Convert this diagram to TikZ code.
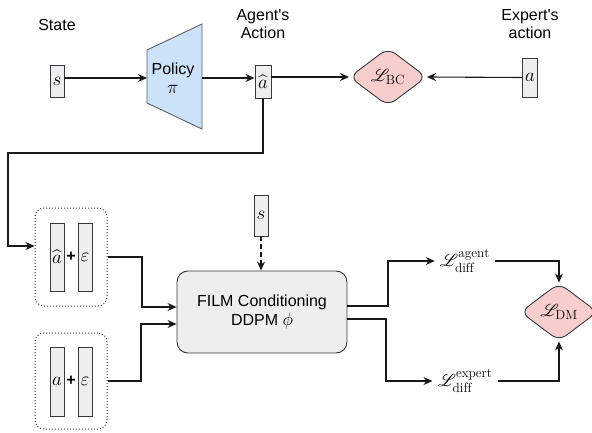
\RequirePackage{fix-cm}
\documentclass[tikz,border=0pt]{standalone}
\usepackage{fontspec}
\newfontfamily\labfont{Liberation Sans}
\usepackage{amsmath}
\usepackage{mathrsfs}
\usetikzlibrary{shapes.geometric,arrows.meta,calc}
\definecolor{dgray}{HTML}{36393D}
\definecolor{lgray}{HTML}{EEEEEE}
\definecolor{pinkf}{HTML}{F8CECC}
\definecolor{bluef}{HTML}{CCE2F8}
\newcommand\mth[1]{{\fontsize{19}{21}\selectfont$#1$}}
\begin{document}
\begin{tikzpicture}[x=1pt,y=-1pt,
  font=\labfont\fontsize{16}{18}\selectfont,
  bar/.style={draw=dgray, fill=lgray, line width=0.9pt, inner sep=0pt, minimum width=14pt},
  lossd/.style={diamond, draw=dgray, fill=pinkf, line width=0.9pt, rounded corners=9pt, inner sep=0pt, minimum width=77pt, minimum height=58pt},
  grp/.style={draw=dgray, dotted, line width=1pt, rounded corners=9pt, inner sep=0pt, minimum width=72pt},
  conn/.style={draw=black!90, line width=1.1pt, -{Stealth[length=9pt,width=8pt]}},
  lab/.style={align=center, inner sep=0pt}]
\useasboundingbox (0,0) rectangle (592,433);

% top row
\node[lab] (lstate) at (57,25) {State};
\node[bar, minimum height=32pt] (s1) at (57,81) {\mth{s}};

\draw[draw=dgray!80, fill=bluef, line width=0.9pt] (147,50) -- (202,24) -- (202,129) -- (147,103) -- cycle;
\coordinate (pl) at (147,78);
\coordinate (pr) at (202,78);
\node[lab] (policy) at (173,78) {Policy\\[1pt]\mth{\pi}};

\node[lab] (lagent) at (263,24) {Agent's\\Action};
\node[bar, minimum width=16pt, minimum height=33pt] (ahat) at (263,81.5) {\mth{\widehat{a}}};

\node[lossd] (lbc) at (388,77) {\mth{\mathscr{L}_{\mathrm{BC}}}};

\node[lab] (lexp) at (530,24) {Expert's\\action};
\node[bar, minimum width=15pt, minimum height=39pt] (aexp) at (530,77.5) {\mth{a}};

\draw[conn] (s1.east |- pl) -- (pl);
\draw[conn] (pr) -- (ahat.west |- pr);
\draw[conn] (ahat.east |- lbc.west) -- (lbc.west);
\draw[conn] (aexp.west) -- (lbc.east);

% groups
\node[grp, minimum height=98pt] (g1) at (71,257) {};
\node[bar, minimum height=68pt] (b1a) at (57,257) {\mth{\widehat{a}}};
\node[inner sep=0pt] (p1) at (71,257) {\bfseries +};
\node[bar, minimum height=68pt] (b1b) at (85,257) {\mth{\varepsilon}};

\node[grp, minimum height=96pt] (g2) at (71,381) {};
\node[bar, minimum height=69pt] (b2a) at (57,381.5) {\mth{a}};
\node[inner sep=0pt] (p2) at (71,381) {\bfseries +};
\node[bar, minimum height=69pt] (b2b) at (85,381.5) {\mth{\varepsilon}};

\draw[conn] (ahat.south) |- (8,153) |- (g1.west |- 0,246);

% FILM
\node[draw=dgray, fill=lgray, line width=0.9pt, rounded corners=11pt, minimum width=170pt, minimum height=82pt, align=center] (film) at (262,312) {FILM Conditioning\\[1pt]DDPM {\fontsize{18}{20}\selectfont$\phi$}};
\node[bar, minimum height=41pt] (s2) at (261,215.5) {\mth{s}};
\draw[conn, dash pattern=on 5pt off 3pt] (s2.south) -- (s2.south |- film.north);

\draw[conn] (g1.east) -| (142,307) -- (film.west |- 0,307);
\draw[conn] (g2.east) -| (141,324) -- (film.west |- 0,324);

% losses
\node[inner xsep=5pt, inner ysep=0pt] (lag) at (465,261) {\mth{\mathscr{L}^{\mathrm{agent}}_{\mathrm{diff}}}};
\node[inner xsep=5pt, inner ysep=0pt] (lex) at (465,381) {\mth{\mathscr{L}^{\mathrm{expert}}_{\mathrm{diff}}}};
\node[lossd] (ldm) at (559,312) {\mth{\mathscr{L}_{\mathrm{DM}}}};

\draw[conn] (film.east |- 0,306) -| (388,261) -- (lag.west);
\draw[conn] (film.east |- 0,319) -| (386,381) -- (lex.west);
\draw[conn] (lag.east) -| (ldm.north);
\draw[conn] (lex.east) -| (ldm.south);
\end{tikzpicture}
\end{document}
